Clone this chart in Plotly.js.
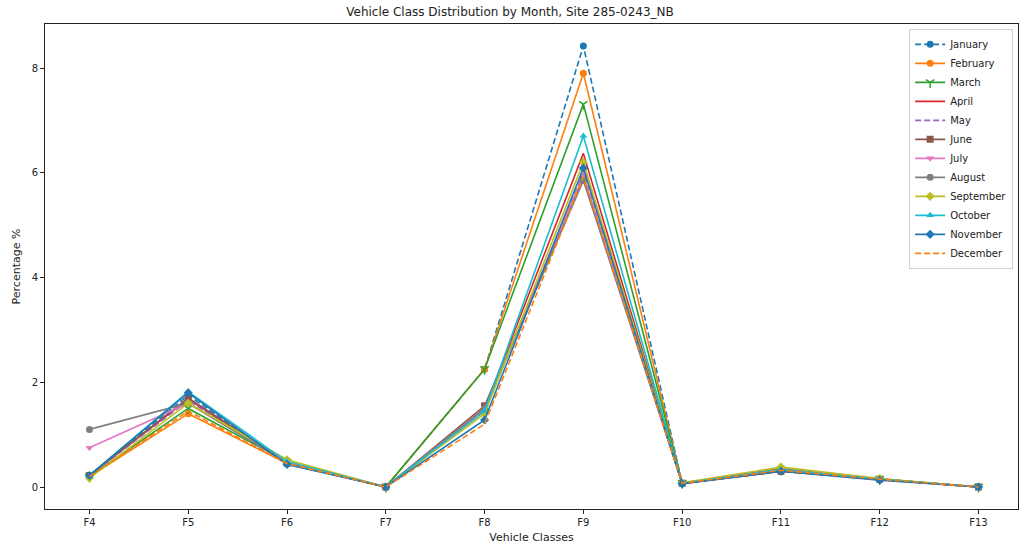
<!DOCTYPE html>
<html><head><meta charset="utf-8">
<script src="https://cdn.plot.ly/plotly-3.0.1.min.js"></script>
<style>html,body{margin:0;padding:0;background:#fff}#chart{width:1020px;height:550px}</style>
</head><body><div id="chart"></div>
<script>
const categories = ["F4","F5","F6","F7","F8","F9","F10","F11","F12","F13"];
const months = ["January","February","March","April","May","June","July","August","September","October","November","December"];
const january   = [0.22, 1.75, 0.45, 0.0, 2.25, 8.42, 0.07, 0.33, 0.15, 0.0];
const february  = [0.20, 1.40, 0.45, 0.0, 2.25, 7.90, 0.07, 0.30, 0.14, 0.0];
const march     = [0.20, 1.50, 0.48, 0.0, 2.25, 7.31, 0.08, 0.33, 0.15, 0.0];
const april     = [0.22, 1.68, 0.46, 0.0, 1.50, 6.37, 0.07, 0.30, 0.15, 0.0];
const may       = [0.22, 1.65, 0.47, 0.0, 1.45, 6.00, 0.07, 0.33, 0.15, 0.0];
const june      = [0.22, 1.70, 0.46, 0.0, 1.55, 5.90, 0.07, 0.30, 0.15, 0.0];
const july      = [0.75, 1.60, 0.47, 0.0, 1.50, 5.95, 0.07, 0.33, 0.15, 0.0];
const august    = [1.10, 1.60, 0.46, 0.0, 1.50, 5.85, 0.07, 0.35, 0.15, 0.0];
const september = [0.17, 1.60, 0.52, 0.0, 1.40, 6.20, 0.08, 0.38, 0.16, 0.0];
const october   = [0.22, 1.82, 0.48, 0.0, 1.45, 6.70, 0.07, 0.33, 0.15, 0.0];
const november  = [0.22, 1.80, 0.43, 0.0, 1.28, 6.09, 0.06, 0.30, 0.13, 0.0];
const december  = [0.20, 1.45, 0.45, 0.0, 1.20, 5.92, 0.07, 0.32, 0.15, 0.0];
const yTicks = [0, 2, 4, 6, 8];

const seriesValues = [january,february,march,april,may,june,july,august,september,october,november,december];
const colors = ["#1f77b4","#ff7f0e","#2ca02c","#d62728","#9467bd","#8c564b","#e377c2","#7f7f7f","#bcbd22","#17becf","#1f77b4","#ff7f0e"];
const dashes = ["6px,3px","solid","solid","solid","6px,3px","solid","solid","solid","solid","solid","solid","6px,3px"];
const symbols = ["circle","circle","y-down-open","none","none","square","triangle-down","circle","diamond","triangle-up","diamond","none"];
const xIdx = categories.map((c,i)=>i);

const traces = seriesValues.map((vals,i)=>{
  const hasMarker = symbols[i] !== "none";
  const t = {
    x: xIdx, y: vals, name: months[i], type: "scatter",
    mode: hasMarker ? "lines+markers" : "lines",
    line: {color: colors[i], width: 1.6, dash: dashes[i]}
  };
  if (hasMarker) {
    const open = symbols[i] === "y-down-open";
    t.marker = {symbol: symbols[i], size: 7, color: colors[i], line: {color: colors[i], width: open ? 1.5 : 0}};
  }
  return t;
});

const layout = {
  width: 1020, height: 550,
  margin: {l: 45, r: 2, t: 24, b: 41},
  paper_bgcolor: "#fff", plot_bgcolor: "#fff",
  font: {family: "DejaVu Sans, sans-serif", size: 10, color: "#222"},
  title: {text: "Vehicle Class Distribution by Month, Site 285-0243_NB", font: {size: 12, color: "#222"}, x: 0.5, xanchor: "center", y: 0.978, yanchor: "middle"},
  showlegend: true,
  legend: {x: 0.995, xanchor: "right", y: 0.99, yanchor: "top", bgcolor: "rgba(255,255,255,0.9)", bordercolor: "#d0d0d0", borderwidth: 1, font: {size: 10, color: "#222"}, tracegroupgap: 0},
  xaxis: {
    range: [-0.45, 9.4], tickmode: "array", tickvals: xIdx, ticktext: categories,
    showgrid: false, zeroline: false, showline: true, linecolor: "#222", linewidth: 1, mirror: true,
    ticks: "outside", ticklen: 4, tickcolor: "#222",
    title: {text: "Vehicle Classes", font: {size: 11}, standoff: 6}
  },
  yaxis: {
    range: [-0.42, 8.84], tickmode: "array", tickvals: yTicks, ticktext: yTicks.map(String),
    showgrid: false, zeroline: false, showline: true, linecolor: "#222", linewidth: 1, mirror: true,
    ticks: "outside", ticklen: 4, tickcolor: "#222",
    title: {text: "Percentage %", font: {size: 11}, standoff: 8}
  }
};
Plotly.newPlot("chart", traces, layout, {displayModeBar: false, staticPlot: true});
</script></body></html>
